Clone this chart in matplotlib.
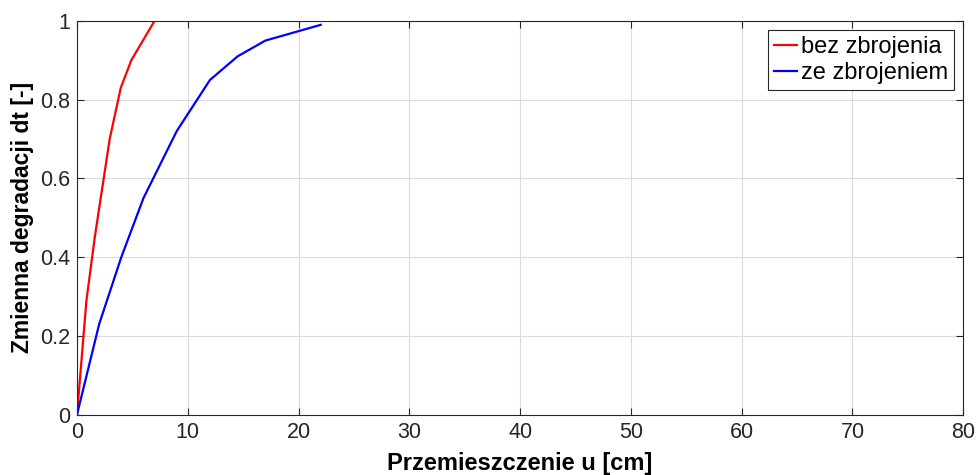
"""Zmienna degradacji vs przemieszczenie"""

import matplotlib
matplotlib.use("Agg")
import matplotlib.pyplot as plt

# bez zbrojenia
u_bez = [0, 0.85, 1.6, 2.95, 3.95, 4.9, 7.0]
dt_bez = [0, 0.29, 0.45, 0.70, 0.83, 0.90, 1.0]

# ze zbrojeniem
u_ze = [0, 2, 4, 6, 9, 12, 14.5, 17, 22]
dt_ze = [0, 0.23, 0.40, 0.55, 0.72, 0.85, 0.91, 0.95, 0.99]

x_ticks = [0, 10, 20, 30, 40, 50, 60, 70, 80]
y_ticks = [0, 0.2, 0.4, 0.6, 0.8, 1]
y_ticklabels = ["0", "0.2", "0.4", "0.6", "0.8", "1"]

plt.rcParams['font.family'] = ['Liberation Sans', 'DejaVu Sans']

fig = plt.figure(figsize=(9.76, 4.75), dpi=100)
ax = fig.add_axes([0.0789, 0.127, 0.908, 0.829])

ax.plot(u_bez, dt_bez, color='red', lw=1.6, label='bez zbrojenia')
ax.plot(u_ze, dt_ze, color='blue', lw=1.6, label='ze zbrojeniem')

ax.set_xlim(0, 80)
ax.set_ylim(0, 1)
ax.set_xticks(x_ticks)
ax.set_yticks(y_ticks)
ax.set_yticklabels(y_ticklabels)
ax.tick_params(direction='in', length=5, width=0.8, labelsize=15.5, colors='#262626',
               top=True, right=True, pad=5)
ax.grid(True, color='#dcdcdc', lw=0.8)
ax.set_axisbelow(True)
for s in ax.spines.values():
    s.set_color('#262626')
    s.set_linewidth(0.8)

ax.set_xlabel('Przemieszczenie u [cm]', fontsize=17, fontweight='bold', labelpad=7)
ax.set_ylabel('Zmienna degradacji dt [-]', fontsize=16.5, fontweight='bold', labelpad=4)

leg = ax.legend(loc='upper right', fontsize=17, fancybox=False, framealpha=1,
                edgecolor='#262626', handlelength=1.0, handletextpad=0.15,
                borderpad=0.25, labelspacing=0.15, borderaxespad=0.4)
leg.get_frame().set_linewidth(0.8)

fig.savefig('out.png', dpi=100)
